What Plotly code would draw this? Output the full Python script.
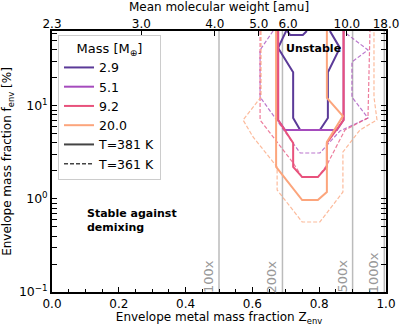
import math
import plotly.graph_objects as go

# ---------------- data ----------------
masses = ["2.9", "5.1", "9.2", "20.0"]
colors = ["#5b3a98", "#a54bbd", "#e8527c", "#fca57c"]
temps = ["T=381 K", "T=361 K"]

# T = 381 K contours (solid)
c29_z = [0.832, 0.862, 0.826, 0.826, 0.802, 0.743, 0.722, 0.722, 0.677, 0.701]
c29_f = [64, 42.1, 23.0, 7.43, 5.52, 5.52, 7.43, 23.0, 42.1, 64]
c29n_z = [0.704, 0.713, 0.751, 0.763]
c29n_f = [64, 58, 58, 64]
c51_z = [0.677, 0.677, 0.698, 0.853, 0.873, 0.873]
c51_f = [64, 7.07, 5.52, 5.52, 7.07, 64]
c92_z = [0.677, 0.677, 0.722, 0.722, 0.749, 0.796, 0.823, 0.823, 0.873, 0.873]
c92_f = [64, 7.07, 4.0, 2.21, 1.72, 1.72, 2.21, 4.0, 7.07, 64]
c20_z = [0.823, 0.823, 0.871, 0.823, 0.823, 0.796, 0.749, 0.671, 0.671]
c20_f = [64, 12.2, 7.8, 4.1, 1.19, 0.975, 0.975, 2.21, 64]

# T = 361 K contours (dashed)
d51_z = [0.662, 0.623, 0.623, 0.743, 0.802, 0.862, 0.946, 0.898, 0.898, 0.946, 0.871]
d51_f = [64, 40.0, 12.5, 3.12, 3.12, 5.38, 7.43, 12.5, 29.7, 40.0, 64]
d92_z = [0.623, 0.623, 0.722, 0.749, 0.796, 0.823, 0.877, 0.946, 0.952]
d92_f = [64, 7.07, 2.44, 1.72, 1.72, 2.32, 5.52, 7.43, 64]
d20_z = [0.626, 0.626, 0.572, 0.602, 0.674, 0.674, 0.749, 0.802, 0.871, 0.871,
         0.922, 0.973, 0.964, 0.964]
d20_f = [64, 12.5, 7.07, 4.64, 2.21, 1.25, 0.566, 0.566, 1.19, 3.2, 5.52, 7.07,
         12.5, 64]

# dilution lines
dil_z = [0.5, 0.69, 0.9, 0.995]
dil_lab = ["100x", "200x", "500x", "1000x"]

# top axis: mean molecular weight
mu_vals = [2.3, 3.0, 4.0, 5.0, 6.0, 10.0, 18.0]
mu_text = ["2.3", "3.0", "4.0", "5.0", "6.0", "10.0", "18.0"]
mu_h, mu_z = 2.3, 18.0

x_ticks = [0.0, 0.2, 0.4, 0.6, 0.8, 1.0]
x_text = ["0.0", "0.2", "0.4", "0.6", "0.8", "1.0"]
y_ticks = [0.1, 1, 10]
y_text = ["10<sup>\u22121</sup>", "10<sup>0</sup>", "10<sup>1</sup>"]
y_minor = [v * d for d in (0.1, 1, 10) for v in range(2, 10)]


def z_of_mu(mu):
    return (1 / mu_h - 1 / mu) / (1 / mu_h - 1 / mu_z)


fig = go.Figure()

solid = [(c29_z, c29_f, 0), (c29n_z, c29n_f, 0), (c51_z, c51_f, 1),
         (c92_z, c92_f, 2), (c20_z, c20_f, 3)]
dashed = [(d51_z, d51_f, 1), (d92_z, d92_f, 2), (d20_z, d20_f, 3)]

for zz, ff, ci in dashed:
    fig.add_trace(go.Scatter(x=zz, y=ff, mode="lines", showlegend=False,
                             line=dict(color=colors[ci], width=1.2, dash="4px,2px"),
                             opacity=0.75, hoverinfo="skip"))
for zz, ff, ci in solid:
    fig.add_trace(go.Scatter(x=zz, y=ff, mode="lines", showlegend=False,
                             line=dict(color=colors[ci], width=2),
                             hoverinfo="skip"))

# legend entries
for m, c in zip(masses, colors):
    fig.add_trace(go.Scatter(x=[None], y=[None], mode="lines", name=m,
                             line=dict(color=c, width=2)))
fig.add_trace(go.Scatter(x=[None], y=[None], mode="lines", name=temps[0],
                         line=dict(color="#444444", width=2)))
fig.add_trace(go.Scatter(x=[None], y=[None], mode="lines", name=temps[1],
                         line=dict(color="#444444", width=1.5, dash="4px,2px")))

# invisible trace for top axis
fig.add_trace(go.Scatter(x=[0, 1], y=[1, 1], xaxis="x2", mode="markers",
                         marker=dict(opacity=0), showlegend=False, hoverinfo="skip"))

for z, lab in zip(dil_z, dil_lab):
    fig.add_shape(type="line", x0=z, x1=z, y0=0, y1=1, xref="x", yref="paper",
                  line=dict(color="#bbbbbb", width=1.5), layer="below")
    fig.add_annotation(x=z, y=-1, xref="x", yref="y", text=lab, textangle=-90,
                       showarrow=False, xanchor="right", yanchor="bottom",
                       xshift=-1, yshift=-3, font=dict(size=13, color="#999999"))

fig.add_annotation(x=0.782, y=math.log10(42), text="<b>Unstable</b>", showarrow=False,
                   font=dict(size=11, color="black"))
fig.add_annotation(x=0.099, y=math.log10(0.58), text="<b>Stable against<br>demixing</b>",
                   showarrow=False, xanchor="left", align="left",
                   font=dict(size=11, color="black"))

fig.update_layout(
    width=400, height=326,
    margin=dict(l=52, r=14, t=31, b=34),
    plot_bgcolor="white", paper_bgcolor="white",
    font=dict(family="DejaVu Sans", size=12, color="black"),
    xaxis=dict(range=[0, 1], tickmode="array", tickvals=x_ticks, ticktext=x_text,
               ticks="inside", ticklen=5, tickwidth=1.2, tickcolor="black",
               showline=True, linecolor="black", linewidth=1.6, mirror=True,
               showgrid=False, zeroline=False, automargin=False,
               tickfont=dict(size=12),
               minor=dict(dtick=0.05, ticks="inside", ticklen=3, tickcolor="black",
                          showgrid=False),
               title=dict(text="Envelope metal mass fraction Z<sub>env</sub>",
                          standoff=4, font=dict(size=12))),
    xaxis2=dict(range=[0, 1], overlaying="x", side="top", tickmode="array",
                tickvals=[z_of_mu(m) for m in mu_vals], ticktext=mu_text,
                ticks="inside", ticklen=5, tickwidth=1.2, tickcolor="black",
                showgrid=False, zeroline=False, showline=False, automargin=False,
                tickfont=dict(size=12),
                title=dict(text="Mean molecular weight [amu]", standoff=3,
                           font=dict(size=12))),
    yaxis=dict(type="log", range=[-1, 1.806], tickmode="array", tickvals=y_ticks,
               ticktext=y_text, ticks="inside", ticklen=5, tickwidth=1.2,
               tickcolor="black", showline=True, linecolor="black", linewidth=1.6,
               mirror="allticks", showgrid=False, zeroline=False, automargin=False,
               tickfont=dict(size=12.5),
               minor=dict(tickvals=y_minor, ticks="inside", ticklen=3,
                          tickcolor="black", showgrid=False),
               title=dict(text="Envelope mass fraction f<sub>env</sub> [%]",
                          standoff=6, font=dict(size=12))),
    legend=dict(x=0.018, y=0.985, xanchor="left", yanchor="top",
                bgcolor="rgba(255,255,255,0.85)", bordercolor="#cccccc",
                borderwidth=1, font=dict(size=12.5), itemwidth=30,
                title=dict(text="Mass [M<sub>\u2295</sub>]", side="top center",
                           font=dict(size=13))),
)

fig.write_html("out.html")
